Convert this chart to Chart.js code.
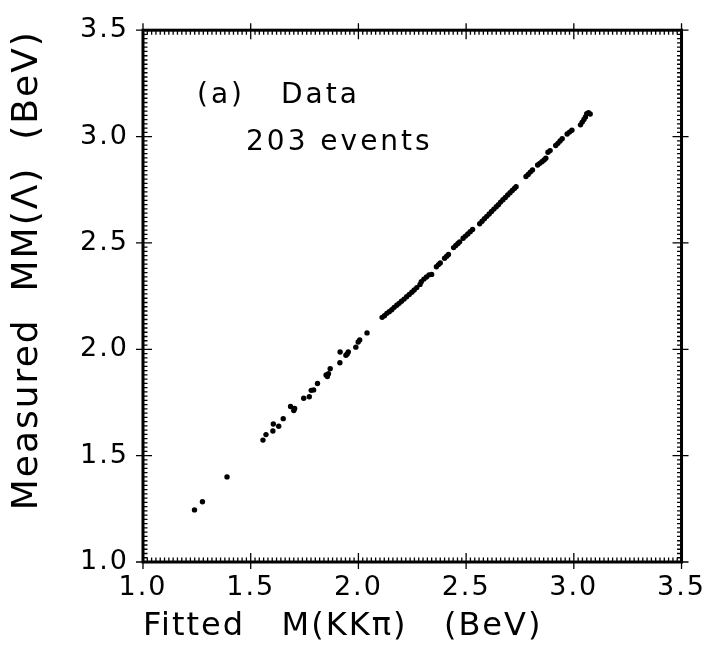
<!DOCTYPE html>
<html>
<head>
<meta charset="utf-8">
<script src="https://cdn.jsdelivr.net/npm/chart.js@4"></script>
<style>
  body { margin: 0; background: #fff; }
  canvas { display: block; }
</style>
</head>
<body>
<canvas id="plot" width="713" height="660"></canvas>
<script>
// axis range and major tick labels (BeV)
const axisMin = 1.0;
const axisMax = 3.5;
const tickStep = 0.5;

// fitted M(KK pi) for each event
const fittedMass = [
  1.239, 1.276, 1.390,
  1.557, 1.571, 1.603, 1.605, 1.630, 1.651, 1.685, 1.700, 1.704,
  1.746, 1.772, 1.781, 1.792, 1.810, 1.850, 1.856, 1.861, 1.869,
  1.914, 1.915, 1.942, 1.948, 1.953, 1.988, 1.999, 2.006, 2.040,
  2.110, 2.121, 2.132, 2.143, 2.155, 2.166, 2.178, 2.189, 2.200, 2.212,
  2.224, 2.236, 2.248, 2.259, 2.271, 2.286,
  2.292, 2.304, 2.316, 2.328, 2.340,
  2.362, 2.372, 2.380, 2.400, 2.410, 2.418,
  2.442, 2.452, 2.462, 2.470,
  2.486, 2.497, 2.508, 2.519, 2.530,
  2.563, 2.574, 2.585, 2.596, 2.607, 2.618, 2.629, 2.640, 2.650,
  2.660, 2.671, 2.682, 2.693, 2.704, 2.714, 2.724, 2.732,
  2.778, 2.788, 2.798, 2.808,
  2.832, 2.842, 2.852, 2.862, 2.870, 2.880, 2.890,
  2.916, 2.926, 2.936, 2.946,
  2.969, 2.980, 2.991,
  3.031, 3.039, 3.047, 3.054, 3.060, 3.068, 3.076
];

// measured missing mass MM(Lambda) for the same events
const measuredMass = [
  1.245, 1.283, 1.400,
  1.573, 1.599, 1.616, 1.649, 1.638, 1.674, 1.731, 1.712, 1.722,
  1.770, 1.777, 1.807, 1.809, 1.839, 1.879, 1.872, 1.885, 1.909,
  1.937, 1.987, 1.972, 1.978, 1.987, 2.010, 2.034, 2.044, 2.077,
  2.150, 2.158, 2.169, 2.177, 2.186, 2.197, 2.207, 2.216, 2.226, 2.236,
  2.247, 2.258, 2.268, 2.279, 2.290, 2.305,
  2.318, 2.330, 2.340, 2.350, 2.352,
  2.388, 2.398, 2.406, 2.428, 2.437, 2.446,
  2.478, 2.488, 2.497, 2.505,
  2.522, 2.532, 2.542, 2.553, 2.563,
  2.590, 2.602, 2.614, 2.625, 2.636, 2.648, 2.659, 2.670, 2.680,
  2.692, 2.703, 2.714, 2.725, 2.736, 2.747, 2.756, 2.764,
  2.812, 2.822, 2.833, 2.843,
  2.866, 2.874, 2.882, 2.890, 2.898, 2.926, 2.934,
  2.958, 2.968, 2.979, 2.990,
  3.012, 3.021, 3.030,
  3.055, 3.068, 3.080, 3.092, 3.108, 3.112, 3.106
];

const points = fittedMass.map((m, i) => ({ x: m, y: measuredMass[i] }));

const fontFamily = "'DejaVu Sans', sans-serif";

// frame with inward minor ticks and crossing major ticks, plus the label text
const frameTicks = {
  id: "frameTicks",
  beforeDraw(chart) {
    chart.ctx.letterSpacing = "2px";
  },
  afterDraw(chart) {
    const ctx = chart.ctx;
    const a = chart.chartArea;
    const xs = chart.scales.x;
    const ys = chart.scales.y;
    ctx.save();
    ctx.strokeStyle = "#000";
    ctx.lineWidth = 3;
    ctx.strokeRect(a.left, a.top, a.right - a.left, a.bottom - a.top);

    ctx.beginPath();
    ctx.lineWidth = 1.3;
    const n = Math.round((axisMax - axisMin) / 0.02);
    for (let i = 0; i <= n; i++) {
      const v = axisMin + i * 0.02;
      const major = i % 25 === 0;
      const inLen = major ? 9 : 4.5;
      const outLen = major ? 7 : 0;
      const px = xs.getPixelForValue(v);
      const py = ys.getPixelForValue(v);
      ctx.moveTo(px, a.bottom + outLen); ctx.lineTo(px, a.bottom - inLen);
      ctx.moveTo(px, a.top - outLen); ctx.lineTo(px, a.top + inLen);
      ctx.moveTo(a.left - outLen, py); ctx.lineTo(a.left + inLen, py);
      ctx.moveTo(a.right + outLen, py); ctx.lineTo(a.right - inLen, py);
    }
    ctx.stroke();

    ctx.fillStyle = "#000";
    ctx.font = "28px " + fontFamily;
    ctx.letterSpacing = "3px";
    ctx.textBaseline = "alphabetic";
    ctx.textAlign = "left";
    ctx.fillText("(a)", 197, 103);
    ctx.fillText("Data", 281, 103);
    ctx.fillText("203 events", 246, 150);
    ctx.restore();
  }
};

new Chart(document.getElementById("plot"), {
  type: "scatter",
  data: {
    datasets: [{
      data: points,
      backgroundColor: "#000",
      borderColor: "#000",
      borderWidth: 0,
      pointRadius: 2.7
    }]
  },
  options: {
    responsive: false,
    animation: false,
    layout: { padding: { top: 25, right: 25, left: 0, bottom: 0 } },
    plugins: { legend: { display: false }, tooltip: { enabled: false } },
    scales: {
      x: {
        min: axisMin,
        max: axisMax,
        afterFit(scale) { scale.height = 98; },
        grid: { display: false, drawTicks: false },
        border: { display: false },
        ticks: {
          stepSize: tickStep,
          padding: 10,
          color: "#000",
          font: { family: fontFamily, size: 27 },
          callback: (v) => v.toFixed(1)
        },
        title: {
          display: true,
          align: "start",
          text: "Fitted   M(KKπ)   (BeV)",
          color: "#000",
          font: { family: fontFamily, size: 32 },
          padding: { top: 0, bottom: 14 }
        }
      },
      y: {
        min: axisMin,
        max: axisMax,
        afterFit(scale) { scale.width = 143; },
        grid: { display: false, drawTicks: false },
        border: { display: false },
        ticks: {
          stepSize: tickStep,
          padding: 14,
          color: "#000",
          font: { family: fontFamily, size: 27 },
          callback: (v) => v.toFixed(1)
        },
        title: {
          display: true,
          align: "end",
          text: "Measured  MM(Λ)  (BeV)",
          color: "#000",
          font: { family: fontFamily, size: 36 },
          padding: { top: 6, bottom: 0 }
        }
      }
    }
  },
  plugins: [frameTicks]
});
</script>
</body>
</html>
